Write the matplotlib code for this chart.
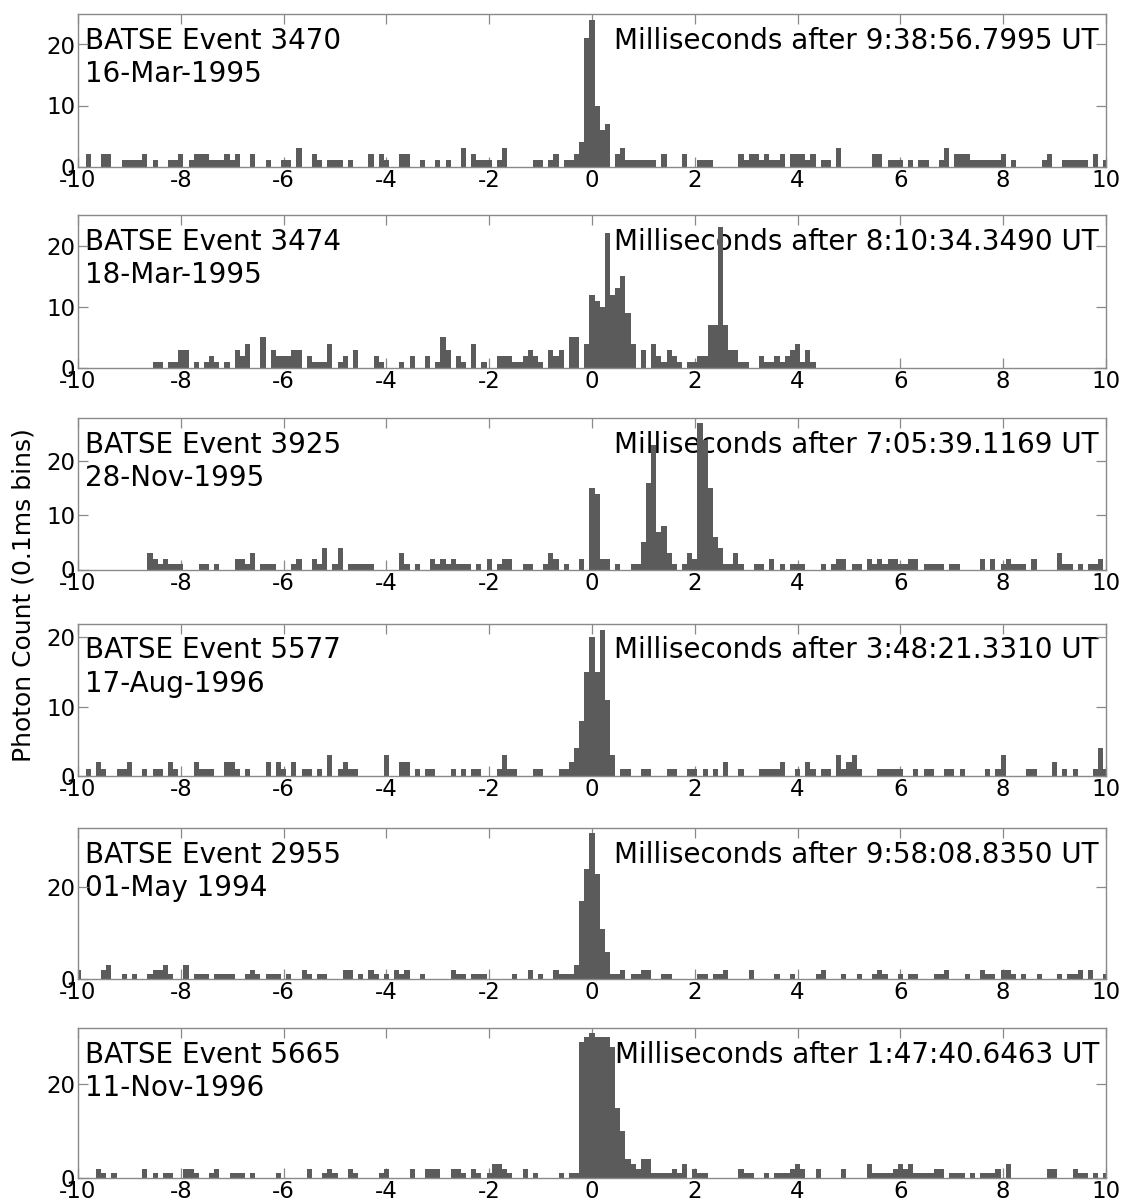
import numpy as np
import matplotlib
matplotlib.use("Agg")
import matplotlib.pyplot as plt

plt.rcParams['font.family'] = ['DejaVu Sans']
plt.rcParams['axes.unicode_minus'] = False

# ---------------- data: photon counts in 0.1 ms bins, centred on -10.0 ... +10.0 ms ----------------
bin_width_ms = 0.1
bin_centers_ms = np.round(np.arange(-100, 101) * bin_width_ms, 1)   # 201 histogram bins

counts_3470 = [
    0, 0, 2, 0, 0, 2, 2, 0, 0, 1,   1, 1, 1, 2, 0, 1, 0, 0, 1, 1,
    2, 0, 1, 2, 2, 2, 1, 1, 1, 2,   1, 2, 0, 0, 2, 0, 0, 1, 0, 0,
    1, 1, 0, 3, 0, 0, 2, 1, 0, 1,   1, 1, 0, 1, 0, 0, 0, 2, 0, 2,
    1, 0, 0, 2, 2, 0, 0, 1, 0, 0,   1, 0, 1, 0, 0, 3, 0, 2, 1, 1,
    1, 0, 1, 3, 0, 0, 0, 0, 0, 1,   1, 0, 1, 2, 0, 1, 1, 2, 4, 21,
    24, 10, 6, 7, 0, 2, 3, 1, 1, 1, 1, 1, 1, 0, 2, 0, 0, 0, 2, 0,
    0, 1, 1, 1, 0, 0, 0, 0, 0, 2,   1, 2, 2, 1, 2, 1, 1, 2, 0, 2,
    2, 2, 1, 2, 0, 1, 1, 0, 3, 0,   0, 0, 0, 0, 0, 2, 2, 0, 1, 1,
    1, 0, 1, 0, 1, 1, 0, 0, 1, 3,   0, 2, 2, 2, 1, 1, 1, 1, 1, 1,
    2, 0, 1, 0, 0, 0, 0, 0, 1, 2,   0, 0, 1, 1, 1, 1, 1, 0, 2, 0,
    1]

counts_3474 = [
    0, 0, 0, 0, 0, 0, 0, 0, 0, 0,   0, 0, 0, 0, 0, 1, 1, 0, 1, 1,
    3, 3, 0, 1, 0, 1, 2, 1, 0, 1,   0, 3, 2, 4, 0, 0, 5, 0, 3, 2,
    2, 2, 3, 3, 0, 2, 1, 1, 1, 4,   0, 1, 2, 0, 3, 0, 0, 0, 2, 1,
    0, 0, 0, 1, 0, 2, 0, 0, 2, 0,   1, 5, 3, 0, 2, 1, 0, 4, 0, 1,
    0, 0, 2, 2, 2, 1, 1, 2, 3, 2,   1, 0, 3, 2, 3, 0, 5, 5, 0, 4,
    12, 11, 10, 22, 12, 13, 15, 9, 4, 0, 3, 0, 4, 2, 1, 3, 2, 1, 0, 1,
    1, 2, 2, 7, 7, 23, 7, 3, 3, 1,  1, 0, 0, 2, 1, 1, 2, 1, 2, 3,
    4, 1, 3, 1, 0, 0, 0, 0, 0, 0,   0, 0, 0, 0, 0, 0, 0, 0, 0, 0,
    0, 0, 0, 0, 0, 0, 0, 0, 0, 0,   0, 0, 0, 0, 0, 0, 0, 0, 0, 0,
    0, 0, 0, 0, 0, 0, 0, 0, 0, 0,   0, 0, 0, 0, 0, 0, 0, 0, 0, 0,
    0]

counts_3925 = [
    0, 0, 0, 0, 0, 0, 0, 0, 0, 0,   0, 0, 0, 0, 3, 2, 1, 2, 1, 1,
    1, 0, 0, 0, 1, 1, 0, 1, 0, 0,   0, 2, 2, 1, 3, 0, 1, 1, 1, 0,
    0, 0, 1, 2, 0, 0, 2, 1, 4, 0,   1, 4, 0, 1, 1, 1, 1, 1, 0, 0,
    0, 0, 0, 3, 1, 0, 1, 0, 0, 2,   1, 2, 1, 2, 1, 1, 1, 0, 1, 0,
    2, 0, 1, 2, 2, 0, 0, 1, 1, 0,   0, 1, 3, 2, 0, 1, 0, 0, 2, 0,
    15, 14, 2, 2, 0, 1, 0, 0, 1, 1, 5, 16, 23, 7, 8, 3, 1, 0, 1, 3,
    2, 27, 24, 15, 6, 4, 1, 1, 3, 1, 0, 0, 1, 1, 0, 2, 0, 1, 0, 1,
    1, 1, 0, 0, 0, 1, 0, 1, 2, 2,   0, 1, 1, 0, 2, 1, 2, 1, 2, 2,
    1, 1, 2, 2, 0, 1, 1, 1, 1, 0,   1, 1, 0, 0, 0, 0, 2, 0, 2, 0,
    1, 2, 1, 1, 1, 0, 2, 0, 0, 0,   0, 3, 1, 1, 0, 1, 0, 1, 1, 2,
    0]

counts_5577 = [
    0, 0, 1, 0, 2, 1, 0, 0, 1, 1,   2, 0, 0, 1, 0, 1, 1, 0, 2, 1,
    0, 0, 0, 2, 1, 1, 1, 0, 0, 2,   2, 1, 0, 1, 0, 0, 0, 2, 0, 2,
    1, 0, 2, 0, 1, 1, 0, 1, 0, 3,   0, 1, 2, 1, 1, 0, 0, 0, 0, 0,
    3, 0, 0, 2, 2, 0, 1, 0, 1, 1,   0, 0, 0, 1, 0, 1, 0, 1, 1, 0,
    0, 0, 1, 3, 1, 1, 0, 0, 0, 1,   1, 0, 0, 0, 1, 1, 2, 4, 8, 15,
    20, 15, 21, 11, 3, 0, 1, 1, 0, 0, 1, 1, 0, 0, 0, 1, 1, 0, 0, 1,
    1, 0, 1, 0, 1, 0, 2, 0, 0, 1,   0, 0, 0, 1, 1, 1, 1, 2, 0, 0,
    1, 0, 2, 1, 0, 1, 1, 0, 3, 1,   2, 3, 1, 0, 0, 0, 1, 1, 1, 1,
    1, 0, 0, 1, 0, 1, 1, 0, 0, 1,   1, 0, 1, 0, 0, 0, 0, 1, 0, 1,
    3, 0, 0, 0, 0, 1, 1, 0, 0, 0,   2, 0, 1, 0, 1, 0, 0, 0, 1, 4,
    1]

counts_2955 = [
    2, 0, 0, 0, 0, 2, 3, 0, 0, 1,   0, 1, 0, 0, 1, 2, 2, 3, 1, 0,
    0, 3, 0, 1, 1, 1, 0, 1, 1, 1,   1, 0, 0, 1, 2, 1, 0, 1, 1, 1,
    0, 1, 0, 0, 2, 1, 0, 1, 1, 0,   0, 0, 2, 2, 0, 1, 0, 2, 1, 0,
    1, 0, 2, 1, 2, 0, 0, 1, 0, 0,   0, 0, 0, 2, 1, 1, 0, 1, 1, 1,
    0, 0, 0, 0, 0, 1, 0, 0, 2, 0,   1, 0, 0, 2, 1, 1, 1, 3, 17, 24,
    32, 23, 11, 6, 1, 1, 2, 0, 1, 1, 2, 2, 0, 0, 1, 1, 0, 0, 0, 0,
    0, 1, 1, 0, 1, 1, 2, 0, 0, 0,   0, 2, 0, 0, 0, 0, 1, 0, 0, 1,
    0, 0, 0, 0, 1, 2, 0, 0, 0, 1,   0, 0, 1, 0, 0, 1, 2, 1, 0, 0,
    1, 0, 1, 1, 0, 0, 0, 1, 1, 2,   0, 0, 0, 1, 0, 0, 2, 1, 1, 0,
    2, 2, 1, 0, 1, 0, 0, 1, 0, 0,   0, 1, 0, 1, 1, 2, 0, 2, 0, 0,
    1]

counts_5665 = [
    0, 0, 0, 0, 2, 1, 0, 1, 0, 0,   0, 0, 0, 2, 0, 1, 0, 1, 1, 0,
    0, 2, 2, 1, 0, 0, 1, 2, 0, 0,   1, 1, 1, 0, 1, 0, 0, 0, 0, 1,
    0, 0, 0, 0, 0, 2, 0, 0, 1, 2,   1, 0, 0, 2, 1, 0, 0, 0, 0, 1,
    2, 0, 0, 0, 0, 2, 0, 0, 2, 2,   2, 0, 0, 2, 2, 1, 0, 2, 1, 0,
    1, 3, 3, 2, 1, 0, 0, 2, 0, 1,   0, 0, 0, 0, 1, 0, 1, 1, 29, 30,
    31, 30, 30, 30, 28, 15, 10, 4, 3, 2, 4, 4, 1, 1, 1, 1, 2, 1, 3, 0,
    2, 1, 1, 0, 0, 0, 0, 0, 0, 2,   1, 1, 0, 0, 1, 0, 1, 1, 1, 2,
    3, 2, 0, 0, 2, 0, 0, 0, 0, 2,   0, 0, 0, 0, 3, 1, 1, 1, 1, 2,
    3, 2, 3, 1, 1, 1, 1, 2, 2, 0,   1, 1, 1, 0, 1, 0, 1, 1, 1, 2,
    0, 3, 0, 0, 0, 0, 0, 0, 0, 2,   2, 0, 0, 0, 2, 1, 1, 0, 1, 0,
    1]

event_ids = ["3470", "3474", "3925", "5577", "2955", "5665"]
event_dates = ["16-Mar-1995", "18-Mar-1995", "28-Nov-1995",
               "17-Aug-1996", "01-May 1994", "11-Nov-1996"]
trigger_times = ["9:38:56.7995", "8:10:34.3490", "7:05:39.1169",
                 "3:48:21.3310", "9:58:08.8350", "1:47:40.6463"]
all_counts = [counts_3470, counts_3474, counts_3925,
              counts_5577, counts_2955, counts_5665]

# ---------------- layout / style ----------------
W, H = 1125, 1203
ax_left_px, ax_right_px = 78, 1106
panel_px = [(14, 166.5), (215, 368), (418, 569.5), (623.5, 776), (828, 979), (1028, 1178)]
y_tops = [25, 25, 28, 22, 33, 32]
y_ticks = [[0, 10, 20], [0, 10, 20], [0, 10, 20], [0, 10, 20], [0, 20], [0, 20]]
x_ticks = list(range(-10, 11, 2))

bar_color = '#5b5b5b'
frame_color = '#8a8a8a'
tick_fs = 16.5
text_fs = 20

fig = plt.figure(figsize=(W / 100, H / 100), dpi=100)

for i in range(6):
    top, bot = panel_px[i]
    ax = fig.add_axes([ax_left_px / W, 1 - bot / H,
                       (ax_right_px - ax_left_px) / W, (bot - top) / H])
    ax.bar(bin_centers_ms, all_counts[i], width=bin_width_ms, color=bar_color,
           linewidth=0, align='center', zorder=2)
    ax.set_xlim(-10, 10)
    ax.set_ylim(0, y_tops[i])
    ax.set_xticks(x_ticks)
    ax.set_xticklabels([str(v) for v in x_ticks])
    ax.set_yticks(y_ticks[i])
    for sp in ax.spines.values():
        sp.set_color(frame_color)
        sp.set_linewidth(1.0)
    ax.tick_params(axis='both', which='major', direction='in', length=7.2, width=0.9,
                   color=frame_color, labelcolor='black', labelsize=tick_fs,
                   top=True, right=True)
    ax.tick_params(axis='x', pad=1.5)
    ax.tick_params(axis='y', pad=2)

    ax.annotate("BATSE Event " + event_ids[i], xy=(0, 1), xycoords='axes fraction',
                xytext=(7, -35), textcoords='offset pixels', ha='left', va='baseline',
                fontsize=text_fs, color='black', zorder=1)
    ax.annotate(event_dates[i], xy=(0, 1), xycoords='axes fraction',
                xytext=(7, -68), textcoords='offset pixels', ha='left', va='baseline',
                fontsize=text_fs, color='black', zorder=1)
    ax.annotate("Milliseconds after " + trigger_times[i] + " UT", xy=(1, 1),
                xycoords='axes fraction', xytext=(-7, -35), textcoords='offset pixels',
                ha='right', va='baseline', fontsize=text_fs, color='black', zorder=1)

fig.text(24 / W, 1 - 595 / H, "Photon Count (0.1ms bins)", rotation=90,
         ha='center', va='center', fontsize=18, color='black')

fig.savefig("out.png", dpi=100, facecolor='white')
